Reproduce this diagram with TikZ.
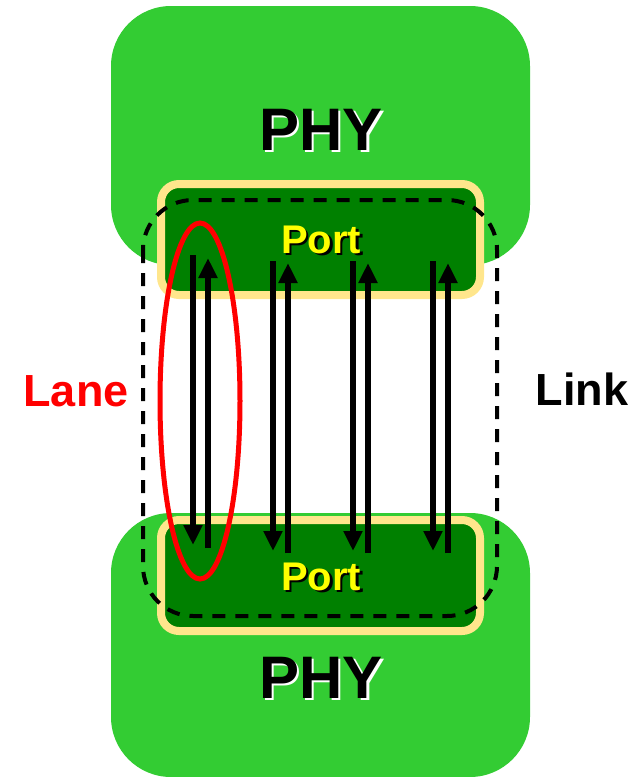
\documentclass[tikz,border=0pt]{standalone}
\usepackage{fontspec}
\setmainfont{Liberation Sans}
\usepackage{xcolor}
\usetikzlibrary{arrows.meta}
\definecolor{phygreen}{RGB}{51, 204, 51}
\definecolor{portgreen}{RGB}{0, 128, 0}
\definecolor{portrim}{RGB}{255, 230, 140}
\definecolor{porttext}{RGB}{255, 255, 0}
% text with a drop shadow
\newcommand{\shadowed}[3]{\makebox[0pt][l]{\hspace*{2.5pt}\raisebox{-2.5pt}{\textcolor{#2}{#3}}}\textcolor{#1}{#3}}

\begin{document}
\begin{tikzpicture}[x=1pt,y=-1pt,
  phy/.style={fill=phygreen, rounded corners=60pt},
  port/.style={draw=portrim, line width=8pt, fill=portgreen, rounded corners=18pt,
    minimum width=319pt, minimum height=111pt, inner sep=0pt,
    font=\fontsize{40}{40}\selectfont\bfseries},
  wire/.style={line width=5.5pt, -{Triangle[length=20pt,width=18pt]}}]
\useasboundingbox (0,0) rectangle (644,777);
% PHY blocks
\fill[phy] (111,6) rectangle (530,265);
\fill[phy] (111,513) rectangle (530,777);
\node[font=\fontsize{60}{60}\selectfont\bfseries] (phytop) at (321,131) {\shadowed{black}{white}{PHY}};
\node[font=\fontsize{60}{60}\selectfont\bfseries] (phybot) at (321,679) {\shadowed{black}{white}{PHY}};
% Ports
\node[port] (porttop) at (320.5,239.5) {};
\node[port] (portbot) at (320.5,575.5) {};
\node[font=\fontsize{40}{40}\selectfont\bfseries] (toplabel) at (321,241) {\shadowed{porttext}{black}{Port}};
\node[font=\fontsize{40}{40}\selectfont\bfseries] (botlabel) at (321,578) {\shadowed{porttext}{black}{Port}};
% Lanes: one wire down, one wire up
\foreach \i/\ya/\yb/\yc/\yd in {0/255/545/548/258, 1/261/551/553/263, 2/261/551/553/263, 3/261/551/553/263} {
  \coordinate (dtop\i) at (193+80*\i,\ya);
  \coordinate (dbot\i) at (193+80*\i,\yb);
  \coordinate (ubot\i) at (208+80*\i,\yc);
  \coordinate (utop\i) at (208+80*\i,\yd);
  \draw[wire] (dtop\i) -- (dbot\i);
  \draw[wire] (ubot\i) -- (utop\i);
}
% Link
\draw[line width=4pt, dash pattern=on 13pt off 10pt, rounded corners=50pt] (143,200) rectangle (497,616);
% Lane
\draw[red, line width=5pt] (200,401) ellipse [x radius=40, y radius=178];
\node[red, font=\fontsize{45}{45}\selectfont\bfseries] (lane) at (76,391) {Lane};
\node[font=\fontsize{45}{45}\selectfont\bfseries] (link) at (582,389) {Link};
\end{tikzpicture}
\end{document}
